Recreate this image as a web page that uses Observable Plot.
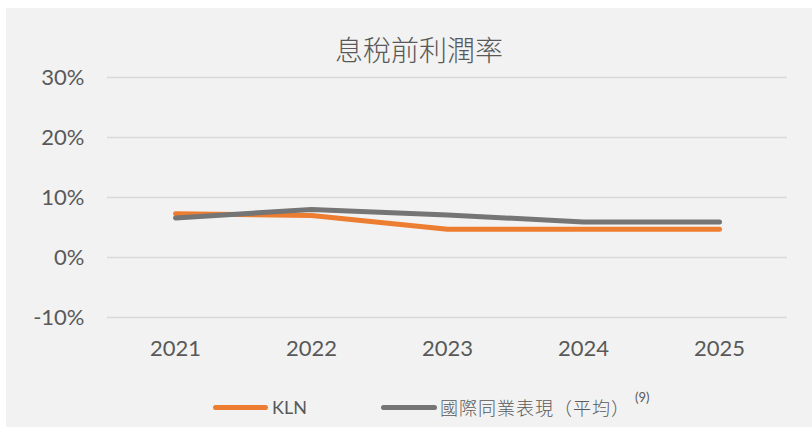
<!DOCTYPE html>
<html>
<head>
<meta charset="utf-8">
<script src="https://cdn.jsdelivr.net/npm/d3@7"></script>
<script src="https://cdn.jsdelivr.net/npm/@observablehq/plot@0.6"></script>
<style>
  html, body { margin: 0; padding: 0; background: #ffffff; }
  #wrap { position: absolute; left: 6px; top: 8px; width: 806px; height: 419px; background: #f2f2f2; overflow: hidden; }
  #title { position: absolute; left: 213px; width: 400px; top: 25px; height: 32px; line-height: 32px; text-align: center;
    font-family: "Noto Sans CJK TC", sans-serif; font-weight: 300; font-size: 28px; color: #595959; }
  #chart { position: absolute; left: 0; top: 0; }
  .lg { position: absolute; font-size: 18px; color: #595959; line-height: 22px; white-space: nowrap; }
  .sw { position: absolute; height: 5px; border-radius: 3px; }
</style>
</head>
<body>
<div id="wrap">
  <div id="chart"></div>
  <div id="title">息稅前利潤率</div>
  <div id="legend"></div>
</div>
<script>
const years = ["2021", "2022", "2023", "2024", "2025"];
const klnValues = [0.073, 0.070, 0.047, 0.047, 0.047];
const peerValues = [0.066, 0.080, 0.071, 0.059, 0.059];
const seriesNames = ["KLN", "國際同業表現（平均）"];
const seriesColors = ["#ED7D31", "#757575"];
const yTicks = [-0.1, 0, 0.1, 0.2, 0.3];
const titleText = "息稅前利潤率";

const data = [];
years.forEach((y, i) => data.push({ year: y, value: klnValues[i], series: seriesNames[0] }));
years.forEach((y, i) => data.push({ year: y, value: peerValues[i], series: seriesNames[1] }));

const fmt = d => `${Math.round(d * 100)}%`;

const chart = Plot.plot({
  width: 806,
  height: 360,
  marginLeft: 101,
  marginRight: 25,
  marginTop: 69,
  marginBottom: 51,
  style: { background: "transparent", fontFamily: "Lato, sans-serif", fontSize: "22px", color: "#595959" },
  x: { type: "point", domain: years, padding: 0.5, label: null, tickSize: 0, tickPadding: 23 },
  y: { domain: [-0.1, 0.3], ticks: yTicks, tickFormat: fmt, label: null, tickSize: 0, tickPadding: 23 },
  color: { domain: seriesNames, range: seriesColors },
  marks: [
    Plot.ruleY(yTicks, { stroke: "#d9d9d9", strokeWidth: 1.4 }),
    Plot.line(data.filter(d => d.series === seriesNames[0]), { x: "year", y: "value", stroke: "series", strokeWidth: 5, strokeLinecap: "round", strokeLinejoin: "round" }),
    Plot.line(data.filter(d => d.series === seriesNames[1]), { x: "year", y: "value", stroke: "series", strokeWidth: 5, strokeLinecap: "round", strokeLinejoin: "round" })
  ]
});
chart.querySelectorAll("g[aria-label='x-axis tick label'] text, g[aria-label='y-axis tick label'] text").forEach(t => t.setAttribute("fill", "#595959"));
document.getElementById("chart").appendChild(chart);
document.getElementById("title").textContent = titleText;

const legend = document.getElementById("legend");
legend.innerHTML = `
  <div class="sw" style="left:207px; top:397px; width:55px; background:${seriesColors[0]}"></div>
  <div class="lg" style="left:266px; top:388px; font-family: Lato, sans-serif;">${seriesNames[0]}</div>
  <div class="sw" style="left:375px; top:397px; width:56px; background:${seriesColors[1]}"></div>
  <div class="lg" style="left:434px; top:388px; font-family: 'Noto Sans CJK TC', sans-serif; font-weight:300; letter-spacing:1px;">國際同業表現（平均）</div>
  <div class="lg" style="left:629px; top:382px; font-size:13px; line-height:14px; font-family: Lato, sans-serif;">(9)</div>
`;
</script>
</body>
</html>
